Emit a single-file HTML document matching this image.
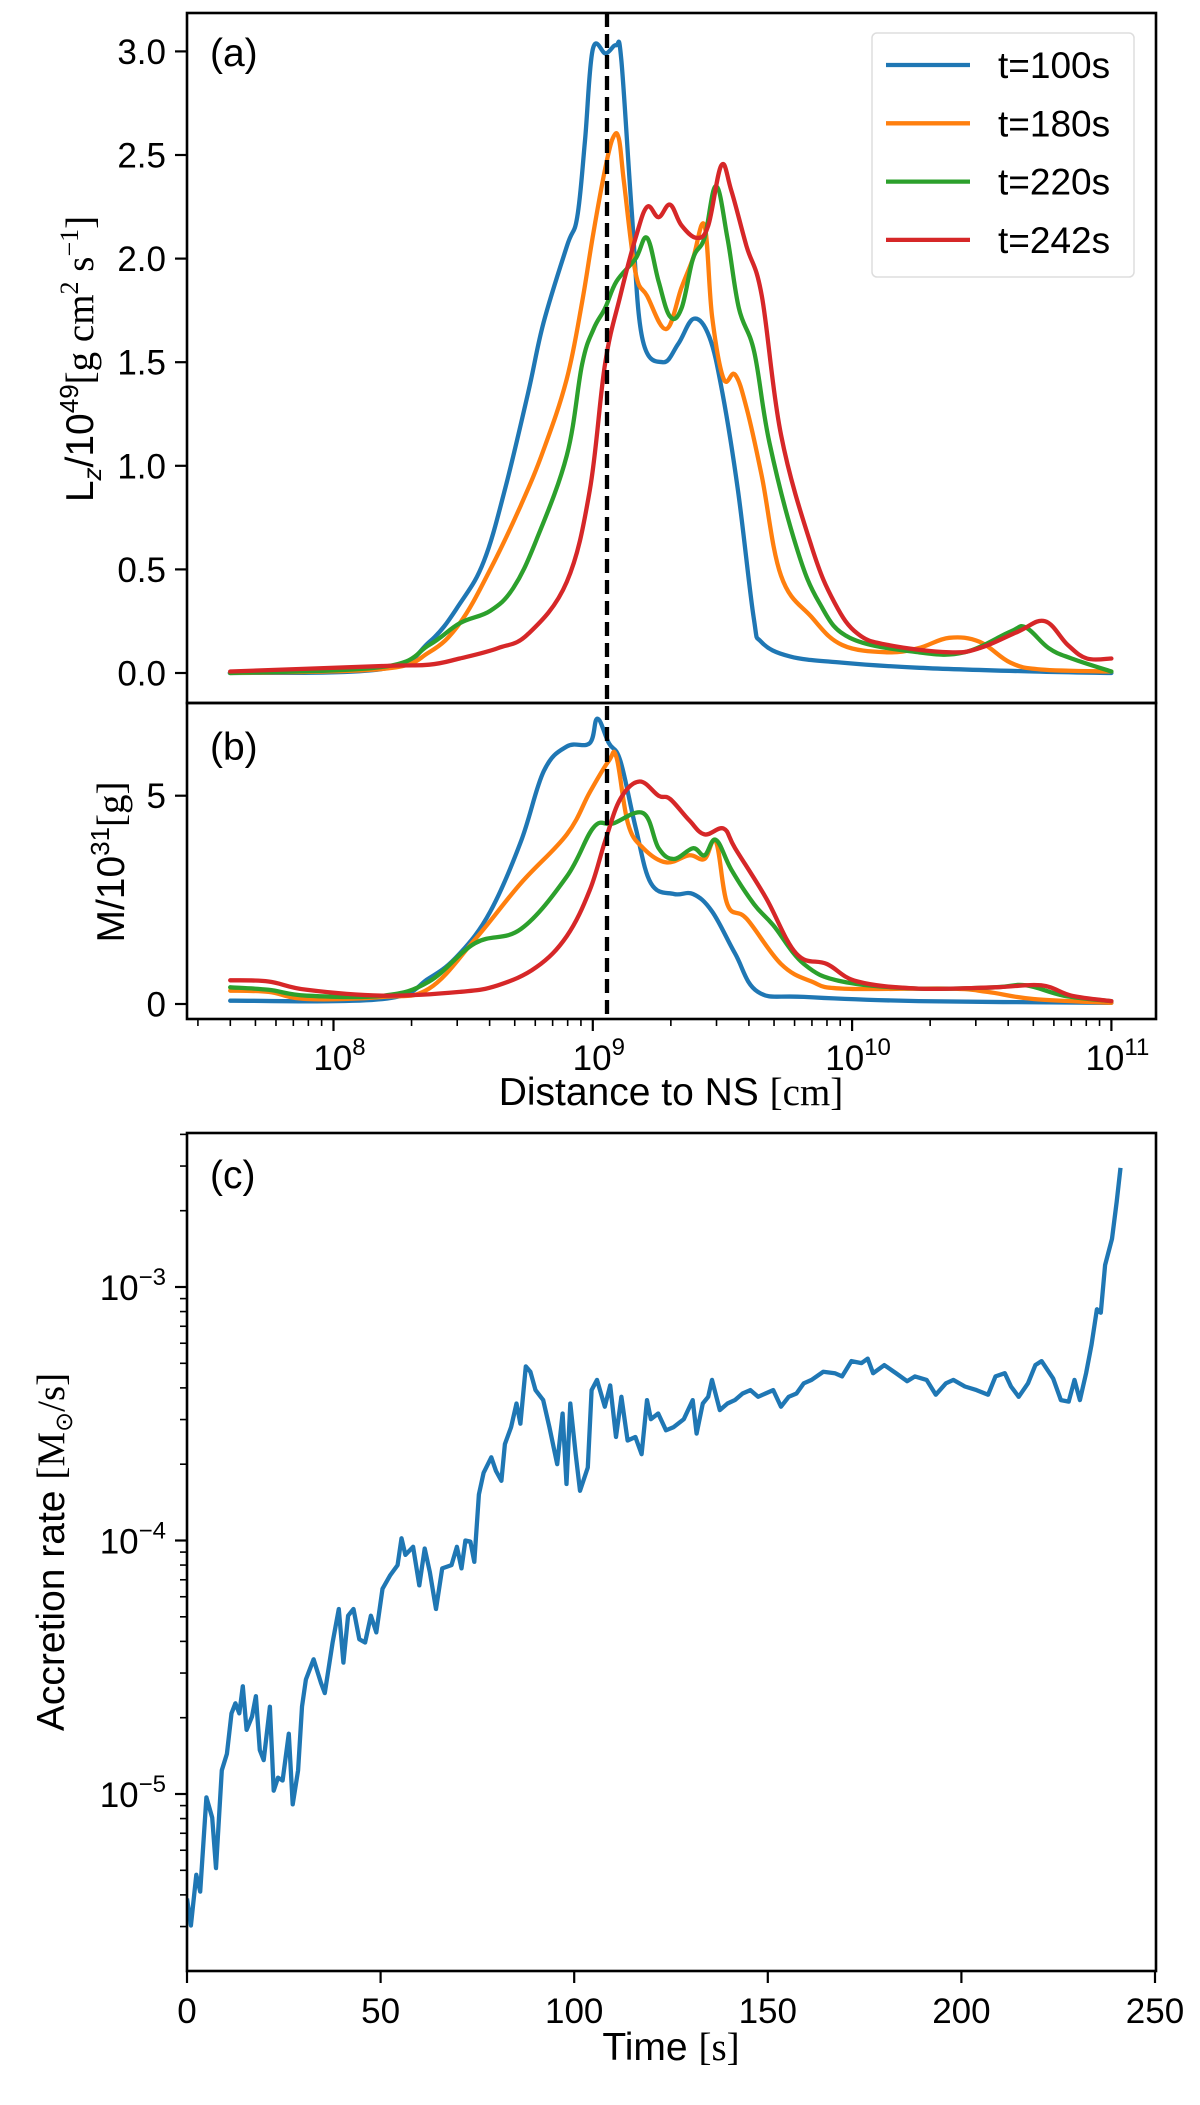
<!DOCTYPE html>
<html><head><meta charset="utf-8"><style>
html,body{margin:0;padding:0;background:#fff}
svg{display:block;font-family:"Liberation Sans",sans-serif}
</style></head><body>
<svg id="fig" width="1200" height="2105" viewBox="0 0 1200 2105" xmlns="http://www.w3.org/2000/svg"></svg>
<script>
// ---------- Data ----------
const distLog=[7.6,8.19,8.37,8.49,8.58,8.66,8.75,8.81,8.90,8.94,8.97,9.0,9.05,9.09,9.11,9.15,9.19,9.27,9.33,9.39,9.45,9.50,9.56,9.62,9.65,9.76,9.96,10.26,10.70,11.0];
const lzBlue=[0,0.02,0.15,0.34,0.54,0.88,1.35,1.69,2.06,2.2,2.57,3.01,2.99,3.03,2.96,2.23,1.62,1.50,1.59,1.71,1.62,1.35,0.88,0.27,0.15,0.08,0.05,0.025,0.007,0];
const xOrange=[300,500,560,600,640,680,710,740,760,775,790,800,808,815,830,845,870,890,905,920,930,945,960,975,995,1020,1060,1100,1160,1200,1240,1280,1320,1360,1452];
const lzOrange=[0,0.02,0.1,0.24,0.5,0.81,1.08,1.42,1.79,2.13,2.43,2.58,2.58,2.36,1.93,1.82,1.66,1.86,2.0,2.16,1.72,1.42,1.44,1.28,0.95,0.47,0.27,0.135,0.1,0.12,0.17,0.15,0.05,0.017,0.007];
const xGreen=[300,500,560,600,640,670,700,740,760,775,790,805,830,845,860,875,890,905,920,935,950,965,985,1005,1040,1070,1110,1200,1260,1320,1340,1370,1400,1452];
const lzGreen=[0,0.03,0.135,0.24,0.30,0.41,0.64,1.05,1.49,1.66,1.76,1.89,2.0,2.1,1.89,1.72,1.76,2.0,2.1,2.35,2.1,1.76,1.55,1.11,0.61,0.34,0.17,0.1,0.1,0.2,0.22,0.12,0.07,0.007];
const xRed=[300,500,560,600,650,690,740,770,790,810,830,845,860,875,890,910,925,942,955,975,995,1020,1060,1090,1120,1160,1240,1280,1330,1365,1395,1420,1452];
const lzRed=[0.007,0.034,0.04,0.07,0.12,0.19,0.44,0.88,1.49,1.82,2.1,2.25,2.2,2.26,2.16,2.1,2.16,2.45,2.33,2.06,1.82,1.15,0.61,0.34,0.19,0.135,0.1,0.12,0.2,0.25,0.135,0.07,0.07];
const mBlueX=[300,500,560,600,640,680,710,740,770,780,795,810,830,850,880,905,930,960,990,1050,1200,1452];
const mBlue=[0.08,0.12,0.62,1.21,2.22,3.9,5.59,6.18,6.26,6.85,6.26,5.84,4.24,2.9,2.64,2.64,2.22,1.21,0.29,0.17,0.07,0.03];
const mOrangeX=[300,350,400,500,560,620,680,740,770,795,805,820,840,870,900,920,935,950,975,1020,1060,1100,1240,1290,1350,1452];
const mOrange=[0.32,0.29,0.12,0.17,0.37,1.55,2.9,4.07,5.08,5.84,5.92,4.33,3.74,3.4,3.57,3.48,3.9,2.39,2.05,0.96,0.54,0.37,0.37,0.29,0.12,0.03];
const mGreenX=[300,350,400,500,560,620,680,740,775,800,840,860,880,905,920,935,955,985,1010,1050,1100,1200,1300,1340,1390,1452];
const mGreen=[0.4,0.34,0.2,0.2,0.54,1.46,1.8,3.06,4.24,4.33,4.58,3.74,3.48,3.74,3.57,3.94,3.23,2.39,1.89,0.96,0.54,0.37,0.4,0.45,0.2,0.07];
const mRedX=[300,350,400,500,600,650,700,740,770,790,810,835,860,875,900,920,945,960,1000,1040,1080,1120,1200,1300,1360,1400,1452];
const mRed=[0.57,0.54,0.34,0.2,0.29,0.45,0.88,1.63,2.73,3.9,4.92,5.34,5.0,4.92,4.41,4.07,4.21,3.74,2.56,1.21,0.96,0.54,0.37,0.4,0.45,0.2,0.07];
const accTime=[0,1,2.4,3.4,5,6.5,7.5,9,10.3,11.5,12.5,13.5,14.4,15.4,16.8,17.8,18.8,19.8,21.4,22.4,23.5,24.7,26.3,27.3,28.7,29.7,30.7,32.7,34.6,35.6,37.6,39.2,40.4,41.6,43,44.5,46,47.5,48.9,50.5,52.5,54.4,55.4,56.4,58.4,60,61.4,62.7,64.3,65.9,68.3,69.7,70.9,71.9,73.2,74.2,75.4,76.6,78.6,79.8,81.2,82.1,83.7,85.1,86.1,87.5,88.7,90,92,93.6,95.6,97,98,99,100.4,101.5,103.5,104.5,105.9,107.9,109.3,110.8,112.2,113.8,115.8,117.4,118.8,119.8,121.7,123.7,125.7,128.3,130.6,131.6,133.2,134.6,135.6,137.6,139.6,141.5,143.5,145.5,147.5,149.4,151.4,153.4,155.4,157.4,159.3,161.3,164.3,167.3,169.2,171.6,174.2,175.8,177.2,180.1,183.1,186,188,191,193.4,196,197.9,200.9,203.9,206.9,208.8,211.2,212.8,214.8,217.2,219.1,220.7,223.7,225.7,227.7,229.2,230.6,232.2,233.6,235,236,237.1,238.9,240.1,241.1];
const accRate=[3.87e-6,3.03e-6,4.8e-6,4.12e-6,9.7e-6,8.07e-6,5.1e-6,1.24e-5,1.44e-5,2.08e-5,2.28e-5,2.08e-5,2.66e-5,1.79e-5,2.02e-5,2.43e-5,1.49e-5,1.36e-5,2.21e-5,1.03e-5,1.16e-5,1.13e-5,1.73e-5,9.1e-6,1.24e-5,2.21e-5,2.83e-5,3.4e-5,2.74e-5,2.5e-5,3.96e-5,5.37e-5,3.3e-5,5.05e-5,5.37e-5,4.08e-5,3.96e-5,5.05e-5,4.34e-5,6.45e-5,7.3e-5,8.0e-5,1.02e-4,8.77e-5,9.44e-5,6.65e-5,9.3e-5,7.52e-5,5.37e-5,7.76e-5,8.0e-5,9.44e-5,7.76e-5,1.0e-4,9.9e-5,8.24e-5,1.52e-4,1.85e-4,2.13e-4,1.88e-4,1.72e-4,2.4e-4,2.8e-4,3.47e-4,2.89e-4,4.86e-4,4.63e-4,3.92e-4,3.58e-4,2.8e-4,2.0e-4,3.17e-4,1.67e-4,3.47e-4,2.19e-4,1.57e-4,1.94e-4,3.92e-4,4.3e-4,3.37e-4,4.09e-4,2.56e-4,3.69e-4,2.48e-4,2.56e-4,2.19e-4,3.58e-4,3.01e-4,3.17e-4,2.72e-4,2.8e-4,3.01e-4,3.58e-4,2.64e-4,3.47e-4,3.69e-4,4.3e-4,3.27e-4,3.47e-4,3.58e-4,3.8e-4,3.92e-4,3.69e-4,3.8e-4,3.92e-4,3.37e-4,3.69e-4,3.8e-4,4.17e-4,4.3e-4,4.63e-4,4.57e-4,4.44e-4,5.1e-4,5.01e-4,5.22e-4,4.57e-4,4.92e-4,4.57e-4,4.25e-4,4.44e-4,4.3e-4,3.76e-4,4.17e-4,4.3e-4,4.05e-4,3.92e-4,3.76e-4,4.44e-4,4.57e-4,4.05e-4,3.69e-4,4.17e-4,4.92e-4,5.1e-4,4.35e-4,3.58e-4,3.53e-4,4.3e-4,3.58e-4,4.57e-4,5.91e-4,8.17e-4,7.92e-4,1.22e-3,1.55e-3,2.17e-3,2.95e-3];
const lzTicks=[0,0.5,1.0,1.5,2.0,2.5,3.0];
const mTicks=[0,5];
const distTickExp=[8,9,10,11];
const timeTicks=[0,50,100,150,200,250];
const rateTickExp=[-5,-4,-3];
const seriesLabels=["t=100s","t=180s","t=220s","t=242s"];
const colors=["#1f77b4","#ff7f0e","#2ca02c","#d62728"];

// ---------- Axes ----------
const L=187,R=1156;
const xl=l=>333.5+(l-8)*259.3;
const zx=z=>xl(8+(z-435)/339);
const ya=v=>673-v*207.2;
const yb=v=>1004-v*41.66;
const xt=t=>187+t*3.872;
const yc=r=>1794-(Math.log10(r)+5)*253.5;
const NS="http://www.w3.org/2000/svg";
const svg=document.getElementById('fig');
const LW=4.3;
function el(tag,attrs,parent){const e=document.createElementNS(NS,tag);for(const k in attrs)e.setAttribute(k,attrs[k]);(parent||svg).appendChild(e);return e;}
function smoothPath(P){
  let d='M'+P[0][0].toFixed(1)+','+P[0][1].toFixed(1);
  for(let i=0;i<P.length-1;i++){
    const p0=P[i-1]||P[i],p1=P[i],p2=P[i+1],p3=P[i+2]||P[i+1];
    const t=0.18;
    const c1=[p1[0]+(p2[0]-p0[0])*t,p1[1]+(p2[1]-p0[1])*t];
    const c2=[p2[0]-(p3[0]-p1[0])*t,p2[1]-(p3[1]-p1[1])*t];
    d+=' C'+c1[0].toFixed(1)+','+c1[1].toFixed(1)+' '+c2[0].toFixed(1)+','+c2[1].toFixed(1)+' '+p2[0].toFixed(1)+','+p2[1].toFixed(1);
  }
  return d;
}
function curve(xs,ys,color,name,clip){
  const P=xs.map((x,i)=>[x,ys[i]]);
  const p=el('path',{d:smoothPath(P),fill:'none',stroke:color,'stroke-width':LW,'stroke-linejoin':'round','stroke-linecap':'round','clip-path':clip});
  
  
}
function poly(xs,ys,color,name,clip){
  const p=el('polyline',{points:xs.map((x,i)=>x.toFixed(1)+','+ys[i].toFixed(1)).join(' '),fill:'none',stroke:color,'stroke-width':LW,'stroke-linejoin':'round','clip-path':clip});
  
  
}
el('clipPath',{id:'ca'}); el('rect',{x:L,y:13,width:R-L,height:690},svg.lastChild);
el('clipPath',{id:'cb'}); el('rect',{x:L,y:703,width:R-L,height:316},svg.lastChild);
el('clipPath',{id:'cc'}); el('rect',{x:L,y:1133,width:R-L,height:838},svg.lastChild);

curve(distLog.map(xl),lzBlue.map(ya),colors[0],'lz-line-t100','url(#ca)');
curve(xOrange.map(zx),lzOrange.map(ya),colors[1],'lz-line-t180','url(#ca)');
curve(xGreen.map(zx),lzGreen.map(ya),colors[2],'lz-line-t220','url(#ca)');
curve(xRed.map(zx),lzRed.map(ya),colors[3],'lz-line-t242','url(#ca)');
curve(mBlueX.map(zx),mBlue.map(yb),colors[0],'mass-line-t100','url(#cb)');
curve(mOrangeX.map(zx),mOrange.map(yb),colors[1],'mass-line-t180','url(#cb)');
curve(mGreenX.map(zx),mGreen.map(yb),colors[2],'mass-line-t220','url(#cb)');
curve(mRedX.map(zx),mRed.map(yb),colors[3],'mass-line-t242','url(#cb)');
poly(accTime.map(xt),accRate.map(yc),colors[0],'accretion-line','url(#cc)');

const dl=el('line',{x1:607,x2:607,y1:13,y2:1019,stroke:'#000','stroke-width':LW,'stroke-dasharray':'14,7'});



[[13,703,'panel-a-frame'],[703,1019,'panel-b-frame'],[1133,1971,'panel-c-frame']].forEach(f=>{
  const r=el('rect',{x:L,y:f[0],width:R-L,height:f[1]-f[0],fill:'none',stroke:'#000','stroke-width':2.6});
  
  
});
function txt(x,y,s,attrs,name){const t=el('text',Object.assign({x:x,y:y,'font-size':35,fill:'#000'},attrs||{}));t.innerHTML=s;return t;}
function tick(x1,y1,x2,y2,w){el('line',{x1:x1,y1:y1,x2:x2,y2:y2,stroke:'#000','stroke-width':w||2.2});}

lzTicks.forEach(v=>{const y=ya(v);tick(L,y,L-12,y);txt(166,y+12.5,v.toFixed(1),{'text-anchor':'end'},'y-tick-label-a');});
mTicks.forEach(v=>{const y=yb(v);tick(L,y,L-12,y);txt(166,y+12.5,String(v),{'text-anchor':'end'},'y-tick-label-b');});
for(let d=7;d<=11;d++){for(let k=1;k<=9;k++){const l=d+Math.log10(k);const x=xl(l);if(x<L||x>R)continue;if(k===1)tick(x,1019,x,1031);else tick(x,1019,x,1026,1.6);}}
distTickExp.forEach(e=>{txt(xl(e)+6,1070,'10<tspan font-size="24" dy="-15">'+e+'</tspan>',{'text-anchor':'middle'},'x-tick-label-distance');});
txt(671,1105,'Distance to NS <tspan font-family="Liberation Serif">[cm]</tspan>',{'text-anchor':'middle','font-size':39},'x-axis-title-distance');
timeTicks.forEach(t=>{const x=xt(t);tick(x,1971,x,1983);txt(x,2023,String(t),{'text-anchor':'middle'},'x-tick-label-time');});
for(let d=-6;d<=-3;d++){for(let k=1;k<=9;k++){const r=k*Math.pow(10,d);const y=yc(r);if(y<1133||y>1971)continue;if(k===1)tick(L,y,L-12,y);else tick(L,y,L-7,y,1.6);}}
rateTickExp.forEach(e=>{txt(166,yc(Math.pow(10,e))+13,'10<tspan font-size="24" dy="-15">\u2212'+(-e)+'</tspan>',{'text-anchor':'end'},'y-tick-label-rate');});
txt(671,2060,'Time <tspan font-family="Liberation Serif">[s]</tspan>',{'text-anchor':'middle','font-size':39},'x-axis-title-time');

txt(0,0,'L<tspan font-size="26" dy="8" font-style="italic">z</tspan><tspan dy="-8">/10</tspan><tspan font-size="26" dy="-15">49</tspan><tspan dy="15" font-family="Liberation Serif">[g cm</tspan><tspan font-family="Liberation Serif" font-size="26" dy="-15">2</tspan><tspan font-family="Liberation Serif" dy="15"> s</tspan><tspan font-family="Liberation Serif" font-size="26" dy="-15">\u22121</tspan><tspan font-family="Liberation Serif" dy="15">]</tspan>',{'text-anchor':'middle','font-size':39,transform:'translate(93,359) rotate(-90)'},'y-axis-title-lz');
txt(0,0,'M/10<tspan font-size="26" dy="-15">31</tspan><tspan dy="15" font-family="Liberation Serif">[g]</tspan>',{'text-anchor':'middle','font-size':39,transform:'translate(124,862) rotate(-90)'},'y-axis-title-mass');
txt(0,0,'Accretion rate <tspan font-family="Liberation Serif">[M</tspan><tspan font-size="24" dy="8">\u2299</tspan><tspan dy="-8" font-family="Liberation Serif">/s]</tspan>',{'text-anchor':'middle','font-size':39,transform:'translate(64,1552) rotate(-90)'},'y-axis-title-accretion');

txt(210,66,'(a)',{'font-size':39},'panel-label-a');
txt(210,760,'(b)',{'font-size':39},'panel-label-b');
txt(210,1188,'(c)',{'font-size':39},'panel-label-c');

const lg=el('rect',{x:872,y:33,width:262,height:244,rx:5,fill:'#fff','fill-opacity':0.85,stroke:'#ddd','stroke-width':1.5});


seriesLabels.forEach((s,i)=>{const y=65+i*58.3;
  const ln=el('line',{x1:886,x2:970,y1:y,y2:y,stroke:colors[i],'stroke-width':LW});
  
  
  txt(998,y+13,s,{'font-size':37},'legend-entry');
});
</script>
</body></html>
